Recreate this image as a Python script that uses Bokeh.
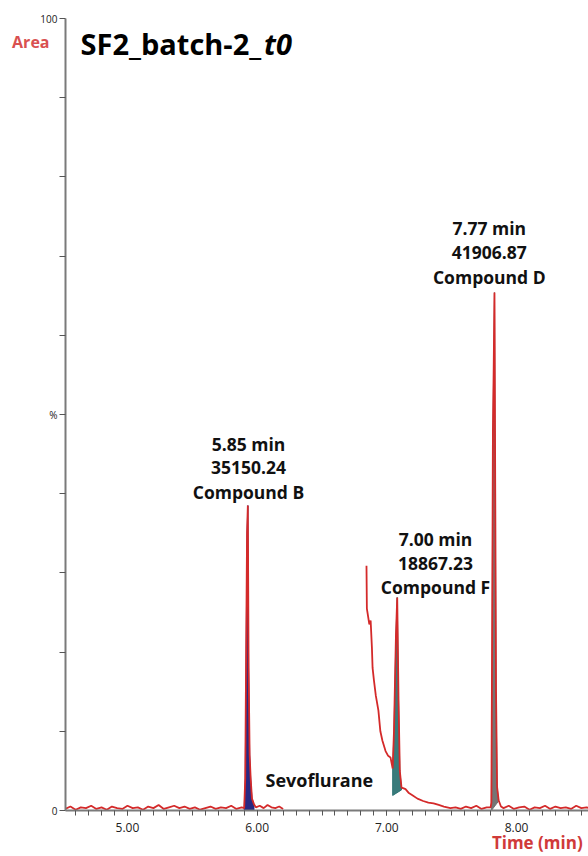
import numpy as np
from bokeh.plotting import figure
from bokeh.models import FixedTicker, LinearAxis
from bokeh.core.properties import value
from bokeh.embed import file_html
from bokeh.resources import INLINE

# ---- data (time in min, area in % of full scale) ----
base1_time = [4.52, 4.56, 4.60, 4.64, 4.68, 4.72, 4.76, 4.80, 4.84, 4.88, 4.92, 4.96, 5.00, 5.04,
              5.08, 5.12, 5.16, 5.20, 5.24, 5.28, 5.32, 5.36, 5.40, 5.44, 5.48, 5.52, 5.56, 5.60,
              5.64, 5.68, 5.72, 5.76, 5.80, 5.84, 5.88]
base1_area = [0.2, 0.5, 0.1, 0.4, 0.3, 0.6, 0.2, 0.4, 0.1, 0.5, 0.3, 0.2, 0.6, 0.3,
              0.4, 0.1, 0.5, 0.3, 0.7, 0.2, 0.4, 0.6, 0.3, 0.5, 0.2, 0.4, 0.1, 0.3,
              0.5, 0.2, 0.4, 0.3, 0.6, 0.2, 0.4]

peakB_time = [5.900, 5.908, 5.916, 5.922, 5.928, 5.934, 5.942, 5.950, 5.960, 5.975, 5.990, 6.020,
              6.050, 6.080, 6.110, 6.140, 6.170, 6.200]
peakB_area = [0.3, 4.0, 22.0, 35.0, 38.5, 18.0, 7.0, 4.0, 1.5, 0.8, 0.4, 0.6,
              0.3, 0.7, 0.4, 0.3, 0.5, 0.2]

sevo_time = [6.843, 6.846, 6.865, 6.875, 6.885, 6.890, 6.900, 6.915, 6.935, 6.950, 6.966, 6.990,
             7.010, 7.028, 7.045]
sevo_area = [30.9, 25.5, 23.5, 24.0, 20.5, 18.0, 16.5, 14.5, 12.6, 10.0, 8.8, 7.5, 6.9, 6.7, 5.3]

peakF_time = [7.055, 7.070, 7.080, 7.090, 7.100, 7.113, 7.130, 7.144, 7.170, 7.200, 7.236, 7.280,
              7.320, 7.360, 7.400, 7.440, 7.490]
peakF_area = [10.0, 22.0, 26.9, 14.0, 5.0, 2.9, 2.8, 2.7, 2.2, 1.9, 1.5, 1.2, 1.0, 0.9, 0.7, 0.5, 0.3]

base2_time = [7.53, 7.57, 7.61, 7.65, 7.69, 7.73, 7.77]
base2_area = [0.4, 0.2, 0.5, 0.3, 0.6, 0.2, 0.4]

peakD_time = [7.800, 7.806, 7.812, 7.818, 7.824, 7.830, 7.836, 7.842, 7.850, 7.862, 7.880]
peakD_area = [0.4, 1.0, 22.0, 48.0, 56.0, 65.4, 40.0, 15.0, 3.0, 1.3, 0.5]

base3_time = [7.90, 7.94, 7.98, 8.02, 8.06, 8.10, 8.14, 8.18, 8.22, 8.26, 8.30, 8.34, 8.38,
              8.42, 8.46, 8.50, 8.54, 8.58]
base3_area = [0.3, 0.6, 0.2, 0.4, 0.5, 0.1, 0.4, 0.3, 0.6, 0.2, 0.5, 0.3, 0.4, 0.2, 0.6, 0.3,
              0.4, 0.2]

# integrated peaks: window start/end and the integration baseline levels
peak_names = ["Compound B", "Compound F", "Compound D"]
peak_start = [5.900, 7.045, 7.806]
peak_end = [5.975, 7.113, 7.862]
peak_base_start = [0.0, 1.9, 0.0]
peak_base_end = [0.0, 2.6, 1.2]
peak_colors = ["#1c1c7c", "#2e7474", "#6e6e6e"]

# annotations
ann_rt = ["5.85 min", "7.00 min", "7.77 min"]
ann_area = ["35150.24", "18867.23", "41906.87"]
ann_x = [5.933, 7.375, 7.790]
ann_y = [46.3, 34.3, 73.5]

x_major = [5, 6, 7, 8]
x_labels = {5: "5.00", 6: "6.00", 7: "7.00", 8: "8.00"}
y_ticks = [0, 10, 20, 30, 40, 50, 60, 70, 80, 90, 100]
y_shown = {0: "0", 50: "%", 100: "100"}
x_title, x_title_at = "Time (min)", 8.16
y_title, y_title_at = "Area", 97

# ---- assemble trace (gap where the solvent region is cut) ----
nan = float("nan")
t = np.array(base1_time + peakB_time + [nan] + sevo_time + peakF_time + base2_time
             + peakD_time + base3_time)
a = np.array(base1_area + peakB_area + [nan] + sevo_area + peakF_area + base2_area
             + peakD_area + base3_area)

RED = "#d42a2a"
FONT = "Open Sans"

p = figure(width=588, height=856, output_backend="svg", toolbar_location=None,
           x_range=(4.522, 8.555), y_range=(0, 100),
           min_border_left=65, min_border_right=0, min_border_top=18, min_border_bottom=46)
p.outline_line_color = None
p.xgrid.visible = False
p.ygrid.visible = False
p.background_fill_color = "white"

# filled integrated peaks
for s, e, b0, b1, c in zip(peak_start, peak_end, peak_base_start, peak_base_end, peak_colors):
    m = (t >= s) & (t <= e)
    xs = [s] + list(t[m]) + [e]
    ys = [b0] + list(a[m]) + [b1]
    p.patch(xs, ys, fill_color=c, line_color=c, line_width=1, fill_alpha=0.95)

p.line(t, a, line_color=RED, line_width=1.8)

# peak annotations
for x, y, rt, ar, nm in zip(ann_x, ann_y, ann_rt, ann_area, peak_names):
    for k, txt in enumerate([rt, ar, nm]):
        p.text(x=[x], y=[y - 3.05 * k], text=[txt], text_font=value(FONT),
               text_font_style="bold", text_font_size="17.5px", text_color="#111111",
               text_align="center", text_baseline="middle")

p.text(x=[6.064], y=[3.8], text=["Sevoflurane"], text_font=value(FONT),
       text_font_style="bold", text_font_size="18px", text_color="#111111",
       text_align="left", text_baseline="middle")

# title
p.text(x=[4.638], y=[96.8], text=["SF2_batch-2_"], text_font=value(FONT),
       text_font_style="bold", text_font_size="29px", text_color="#000000",
       text_align="left", text_baseline="middle")
p.text(x=[6.053], y=[96.8], text=["t0"], text_font=value(FONT),
       text_font_style="bold italic", text_font_size="29px", text_color="#000000",
       text_align="left", text_baseline="middle")

# axes
AX = "#7a7a7a"
minor = [round(4.6 + 0.1 * i, 1) for i in range(40)]
p.xaxis.ticker = FixedTicker(ticks=x_major, minor_ticks=minor)
p.xaxis.major_label_overrides = x_labels
p.xaxis.axis_line_color = AX
p.xaxis.axis_line_width = 2
p.xaxis.major_tick_line_color = "#555555"
p.xaxis.minor_tick_line_color = "#555555"
p.xaxis.major_tick_in = 0
p.xaxis.major_tick_out = 5
p.xaxis.minor_tick_in = 0
p.xaxis.minor_tick_out = 5
p.xaxis.major_label_text_font = FONT
p.xaxis.major_label_text_font_size = "12px"
p.xaxis.major_label_text_color = "#222222"
p.xaxis.major_label_standoff = 7

p.yaxis.ticker = FixedTicker(ticks=y_ticks, minor_ticks=[])
p.yaxis.major_label_overrides = {v: y_shown.get(v, "") for v in y_ticks}
p.yaxis.axis_line_color = AX
p.yaxis.axis_line_width = 2
p.yaxis.major_tick_line_color = "#555555"
p.yaxis.major_tick_in = 0
p.yaxis.major_tick_out = 6
p.yaxis.major_label_text_font = FONT
p.yaxis.major_label_text_font_size = "10px"
p.yaxis.major_label_text_color = "#222222"
p.yaxis.major_label_standoff = 2

# axis titles, carried by two label-only axes
area_axis = LinearAxis(ticker=FixedTicker(ticks=[y_title_at], minor_ticks=[]),
                       major_label_overrides={y_title_at: y_title},
                       axis_line_color=None, major_tick_line_color=None,
                       minor_tick_line_color=None, major_tick_in=0, major_tick_out=0,
                       major_label_standoff=-12, major_label_text_font=FONT,
                       major_label_text_font_style="bold", major_label_text_font_size="16px",
                       major_label_text_color="#d95050")
p.add_layout(area_axis, "left")

time_axis = LinearAxis(ticker=FixedTicker(ticks=[x_title_at], minor_ticks=[]),
                       major_label_overrides={x_title_at: x_title},
                       axis_line_color=None, major_tick_line_color=None,
                       minor_tick_line_color=None, major_tick_in=0, major_tick_out=0,
                       major_label_standoff=-4, major_label_text_font=FONT,
                       major_label_text_font_style="bold", major_label_text_font_size="17px",
                       major_label_text_color="#d03a3a")
p.add_layout(time_axis, "below")

open("out.html", "w").write(file_html(p, INLINE))
